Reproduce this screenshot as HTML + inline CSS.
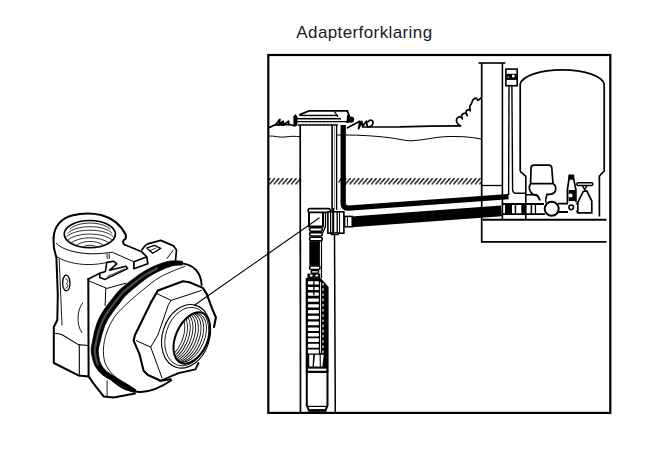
<!DOCTYPE html>
<html><head><meta charset="utf-8">
<style>
html,body{margin:0;padding:0;background:#fff;}
body{width:645px;height:455px;overflow:hidden;position:relative;}
svg{position:absolute;left:0;top:0;}
</style></head><body>
<svg width="645" height="455" viewBox="0 0 645 455">
<text x="296.3" y="37.7" font-family="'Liberation Sans', sans-serif" font-size="17" textLength="135.8" fill="#1a1a22">Adapterforklaring</text>

<!-- frame -->
<rect x="268.3" y="55" width="342" height="357.9" fill="none" stroke="#000" stroke-width="2.2"/>

<g fill="none" stroke="#000" stroke-linecap="round" stroke-linejoin="round">
<!-- ground left -->
<path d="M269.5 127.4 C 272 126, 274 125, 276 124.6 L 283 124.9 L 288.8 124.4 C 291 124.8, 293 125.5, 295 125.9" stroke-width="1.7"/>
<path d="M275.5 124.8 L 279.9 119.4 L 279.2 124.8 L 283.2 121.3 L 283.3 124.9 L 288.5 121.2 L 288.6 124.4" stroke-width="1.8"/>
<!-- soil line left -->
<path d="M269 136 C 274 135.5, 279 137.8, 285 137 S 295 136, 300 136.8" stroke-width="1"/>
<!-- ground right -->
<path d="M347.5 127.8 L359.8 121.3 L358.6 128.6 L361.8 121.5 L362.6 126.4 L366.4 121.2 L367.4 126.8 C 371 127.2, 373.5 125, 373 122 C 372.5 119.3, 369.4 119.6, 368.2 121.6" stroke-width="1.8"/>
<path d="M362.5 127 L 400 126.9 Q 430 125.8 460.5 125.8" stroke-width="1.7"/>
<!-- soil line right -->
<path d="M337 135 L346 135 C 360 135, 375 136, 388 137.5 C 400 139, 405 141, 412 140.8 C 425 140, 435 137, 446 136.6 C 458 136.3, 470 136.5, 481 139" stroke-width="1"/>
<!-- bush -->
<path d="M460.5 125.8 C460.1 125.5,458.5 124.9,457.8 124.0 C457.1 123.1,456.4 121.3,456.4 120.2 C456.4 119.1,457.3 117.9,458.0 117.4 C458.7 116.9,460.1 116.8,460.8 117.0 C461.5 117.2,462.3 119.0,462.4 118.8 C462.5 118.6,461.4 116.5,461.6 115.6 C461.9 114.7,463.1 113.7,463.9 113.4 C464.7 113.1,465.6 113.4,466.2 113.8 C466.8 114.2,467.3 115.9,467.3 115.6 C467.3 115.3,466.0 113.1,466.0 112.2 C466.0 111.3,466.8 110.4,467.4 110.0 C468.0 109.6,469.0 109.5,469.5 109.6 C470.0 109.7,470.2 111.3,470.3 110.8 C470.4 110.3,469.6 107.7,469.8 106.5 C470.0 105.3,471.0 104.6,471.4 103.7 C471.8 102.8,472.0 101.9,472.4 101.1 C472.8 100.3,473.3 99.3,474.0 98.8 C474.7 98.3,475.8 97.9,476.4 98.2 C477.0 98.5,477.4 100.2,477.8 100.4 C478.2 100.6,478.5 100.0,479.0 99.6 C479.5 99.2,480.7 98.1,481.0 97.8" stroke-width="1.7"/>
</g>

<!-- hatch -->
<defs>
<pattern id="hatch" width="4.33" height="6.4" patternUnits="userSpaceOnUse" x="0.84" y="178.1">
<path d="M0 6.4 L5.6 0 M-4.33 6.4 L1.27 0" stroke="#000" stroke-width="1.35"/>
</pattern>
<pattern id="hatch2" width="4.33" height="6.4" patternUnits="userSpaceOnUse" x="2.91" y="178.1">
<path d="M0 6.4 L5.6 0 M-4.33 6.4 L1.27 0" stroke="#000" stroke-width="1.35"/>
</pattern>
<clipPath id="boreclip"><ellipse cx="191.8" cy="338" rx="16" ry="27.2" transform="rotate(24 191.8 338)"/></clipPath>
</defs>
<rect x="269" y="178.1" width="31" height="6.4" fill="url(#hatch)"/>
<rect x="338.5" y="178.1" width="142.5" height="6.4" fill="url(#hatch2)"/>

<!-- cap -->
<g stroke="#000" fill="none">
<path d="M299.3 114.8 L308.9 110.8 L347.4 110.8 L349.3 116.4" stroke-width="1.8" fill="#fff"/>
<path d="M334.4 111.5 L338 117" stroke-width="1.3"/>
<line x1="299.5" y1="115.4" x2="338" y2="115.4" stroke-width="1.3"/>
<line x1="294" y1="118.7" x2="341" y2="118.7" stroke-width="1.4"/>
<line x1="294" y1="121.7" x2="348.5" y2="121.7" stroke-width="1.3"/>
<line x1="298" y1="125" x2="338" y2="125" stroke-width="1.6"/>
<line x1="302" y1="117" x2="336" y2="117" stroke-width="0.6" stroke="#999"/>
<line x1="302" y1="123.3" x2="336" y2="123.3" stroke-width="0.6" stroke="#aaa" stroke-dasharray="2 1.5"/>
</g>
<path d="M293.4 125.8 L293.4 116.5 L295.4 114 L297.4 116.5 L297.4 125.8 Z" fill="#000"/>
<circle cx="351" cy="119.6" r="3.2" fill="#000"/>
<path d="M347 115 L350 115.5 L349 123 L346.5 123 Z" fill="#000"/>

<!-- casing -->
<g stroke="#000" fill="none">
<line x1="300.2" y1="125" x2="300.5" y2="413" stroke-width="1.7"/>
<line x1="332.1" y1="125" x2="332.1" y2="212" stroke-width="1.6"/>
<line x1="334.5" y1="125" x2="334.5" y2="209" stroke-width="0.8" stroke="#777"/>
<line x1="336.6" y1="125" x2="336.6" y2="210" stroke-width="1.3"/>
<line x1="334.5" y1="233" x2="335.3" y2="413" stroke-width="1.5"/>
</g>

<!-- thick upper pipe (conduit) -->
<path d="M343.2 125 L343.2 203.5 Q 343.2 208.2, 348.5 208.2 L 508.5 196.7" fill="none" stroke="#000" stroke-width="5.3"/>
<!-- lower pipe -->
<path d="M351.5 221.8 L 501.5 210.8" fill="none" stroke="#000" stroke-width="10.8"/>

<!-- pitless adapter in well -->
<g stroke="#000" fill="#fff">
<path d="M309 212.5 L309 226.5 L323 226.5 L323 212.5" stroke-width="2"/>
<rect x="308.2" y="208.6" width="22" height="3.8" rx="1.5" stroke-width="1.6"/>
<rect x="327.9" y="211.8" width="16" height="21.4" stroke-width="1.6"/>
<rect x="331.2" y="233" width="7" height="1.6" stroke-width="1.2"/>
<rect x="344.6" y="216.4" width="7.6" height="10.4" stroke-width="1.5"/>
</g>
<g stroke="#000" fill="none">
<line x1="330.6" y1="212" x2="330.6" y2="233" stroke-width="1.2"/>
<line x1="333.2" y1="208" x2="333.2" y2="234" stroke-width="2"/>
<line x1="337.2" y1="211" x2="337.2" y2="233" stroke-width="1.3"/>
<line x1="339.6" y1="212" x2="339.6" y2="233" stroke-width="1"/>
<line x1="347.4" y1="217" x2="347.4" y2="226.3" stroke-width="1"/>
<path d="M322.6 233 L325.5 226.5 L325.5 212.5" stroke-width="1.3"/>
</g>
<!-- drop pipe bands -->
<g stroke="#000" stroke-width="1.6" fill="#fff">
<rect x="309.6" y="227.8" width="12.6" height="3.4" rx="1.4"/>
<rect x="309.6" y="232.6" width="12.6" height="3.4" rx="1.4"/>
<rect x="309.6" y="237.2" width="12.6" height="3.5" rx="1.4"/>
</g>
<rect x="309.3" y="241.2" width="10.6" height="24.5" fill="#000"/>
<line x1="321.5" y1="240" x2="321.5" y2="278" stroke="#000" stroke-width="1.2"/>
<g stroke="#000" stroke-width="1.5" fill="#fff">
<rect x="309.6" y="266" width="10.4" height="3.5" rx="1.5"/>
<rect x="311.2" y="270.6" width="7.4" height="2.6" rx="1.2"/>
</g>
<rect x="307.4" y="273.6" width="12.8" height="4.3" fill="#000"/>
<ellipse cx="311.2" cy="275.6" rx="1.6" ry="1.1" fill="#fff"/>
<ellipse cx="316.8" cy="275.6" rx="1.6" ry="1.1" fill="#fff"/>
<!-- pump body -->
<path d="M305.7 278 L320.7 278 L328.6 287 L328.6 372 L305.7 372 Z" fill="#000"/>
<g fill="#fff">
<rect x="307.9" y="281.3" width="11" height="3.1" rx="0.8"/>
<rect x="307.9" y="286.9" width="11" height="3.2" rx="0.8"/>
<rect x="307.9" y="292.6" width="11" height="3.2" rx="0.8"/>
<rect x="307.9" y="298.4" width="11" height="3.4" rx="0.8"/>
<rect x="307.9" y="304.2" width="11" height="3.4" rx="0.8"/>
<rect x="307.9" y="310" width="11" height="3.5" rx="0.8"/>
<rect x="307.9" y="315.8" width="11" height="3.5" rx="0.8"/>
<rect x="307.9" y="321.6" width="11" height="3.6" rx="0.8"/>
<rect x="307.9" y="327.4" width="11" height="3.6" rx="0.8"/>
<rect x="307.9" y="333.0" width="11" height="3.6" rx="0.8"/>
<rect x="307.9" y="338.2" width="11" height="3.8" rx="0.8"/>
<rect x="307.9" y="343.8" width="11" height="3.9" rx="0.8"/>
<rect x="307.9" y="349.5" width="11" height="4" rx="0.8"/>
<rect x="320" y="282" width="0.9" height="71" />
<path d="M309.2 354.8 L313.2 354.8 L312.6 366.6 L309.2 366.6 Z M315 354.8 L319.6 354.8 L319.8 366.6 L313.8 366.6 Z M320.7 354.8 L323.7 354.8 L322.4 366.6 L320.9 366.6 Z"/>
</g>
<rect x="313.2" y="281.3" width="1.3" height="14" fill="#000"/>
<line x1="323" y1="283" x2="323" y2="353" stroke="#fff" stroke-width="1.2" stroke-dasharray="2.6 2.6"/>
<rect x="307.4" y="368" width="19.6" height="3.4" fill="#fff" stroke="#000" stroke-width="1.3"/>
<!-- motor -->
<path d="M306.8 372 L327.5 372 L327.5 405.5 L325.4 410.6 L309 410.6 L306.8 405.5 Z" fill="#fff" stroke="#000" stroke-width="2"/>
<path d="M307 406.4 L327.3 406.4" stroke="#000" stroke-width="1.2"/>
<rect x="308.4" y="409.2" width="18" height="2.5" fill="#000"/>

<!-- house wall -->
<g stroke="#000" fill="none">
<line x1="478.5" y1="63" x2="505.4" y2="63" stroke-width="1.6"/>
<line x1="481.7" y1="63" x2="481.7" y2="242.5" stroke-width="1.7"/>
<line x1="502.4" y1="63" x2="502.4" y2="219" stroke-width="1.6"/>
<line x1="482" y1="185.5" x2="502" y2="185.5" stroke-width="1.3"/>
</g>
<!-- pressure switch -->
<rect x="505.9" y="69.1" width="11.3" height="16.6" fill="#fff" stroke="#000" stroke-width="1.6"/>
<rect x="506.4" y="73.8" width="10.4" height="5.2" fill="#000"/>
<circle cx="513.4" cy="75.9" r="1.5" fill="#fff"/>
<circle cx="508.2" cy="77.3" r="0.7" fill="#fff"/>
<line x1="505.9" y1="79.3" x2="517.2" y2="79.3" stroke="#000" stroke-width="1.2"/>
<g stroke="#000" fill="none" stroke-width="1.4">
<path d="M509 86 L508.6 195"/>
<path d="M511.9 86 L512.6 189.5 Q 512.8 193.3, 516 193.3 L525.8 193.3"/>
</g>
<!-- tank -->
<path d="M520.2 171.3 L520.2 84 C 522.5 76, 540 69.8, 562.2 69.8 C 584.4 69.8, 601.9 76, 604.2 84 L 604.2 171 L 599.4 176 L 599.4 216.6" fill="none" stroke="#000" stroke-width="1.7"/>
<path d="M520.2 171.3 L525.8 176.4 L525.8 219" fill="none" stroke="#000" stroke-width="1.6"/>

<!-- equipment -->
<path d="M530.6 183.7 L531 168 Q 531.2 165.2, 534 165.2 L 549 165.2 Q 551.4 165.2, 551.8 168 L 553 183.7" fill="#fff" stroke="#000" stroke-width="1.7"/>
<path d="M530.6 183.7 L553 183.7 Q 556.2 185, 555.6 190 Q 555 194, 549.7 194.3 L 547 194.3 L 545.8 199 M530.6 183.7 Q 528.6 186, 529.8 190.3 Q 531.5 195, 537.2 195.6 L 540 200" fill="#fff" stroke="#000" stroke-width="1.7"/>
<!-- horizontal pipe in house -->
<path d="M502 204 L 544 204 M502 214.1 L 545 214.1 M558 203.6 L568 203.6 M558 212 L568 212" stroke="#000" stroke-width="1.8"/>
<g fill="#000">
<rect x="505" y="203.2" width="7" height="11.8" rx="1"/>
<rect x="514.7" y="203.2" width="1.5" height="11.8"/>
<rect x="521.3" y="203.2" width="3.8" height="11.8" rx="0.8"/>
<rect x="530.6" y="203.2" width="1.5" height="11.8"/>
<rect x="534.8" y="203.2" width="1.3" height="11.8"/>
</g>
<path d="M537.5 195 L540 200.5 M545.8 199 L545.8 203 M525.8 194.8 L537 194.8" stroke="#000" stroke-width="1.4"/>
<circle cx="551.7" cy="208.8" r="7" fill="#fff" stroke="#000" stroke-width="2"/>
<!-- gauge bottle -->
<path d="M567.4 203 L567.4 189.8 L569 178.8 L573.7 178.8 L575.9 189.8 L575.9 202" fill="#fff" stroke="#000" stroke-width="1.7"/>
<rect x="568.2" y="174.4" width="6.1" height="4.6" rx="1" fill="#000"/>
<rect x="568.6" y="190" width="6.6" height="11" fill="#000"/>
<circle cx="570.6" cy="195.6" r="2" fill="#fff"/>
<circle cx="571.2" cy="207.3" r="2.3" fill="#fff" stroke="#000" stroke-width="1.6"/>
<!-- valve -->
<rect x="576.8" y="182.8" width="16" height="2.6" rx="1.2" fill="#fff" stroke="#000" stroke-width="1.5"/>
<path d="M582.3 185.4 L584.7 189.8 L587 185.4" fill="none" stroke="#000" stroke-width="1.4"/>
<path d="M583.2 191.5 L577.8 202.5 L577.8 212.8 L591.8 212.8 L591.8 201 L586.8 191 Z" fill="#fff" stroke="#000" stroke-width="1.7"/>
<path d="M575.9 203.5 L577.8 203.5 M575.9 211.5 L577.8 211.5" stroke="#000" stroke-width="1.3"/>
<!-- floor slab -->
<g stroke="#000" fill="none">
<line x1="482.5" y1="219.8" x2="606.5" y2="219.8" stroke-width="1.9"/>
<line x1="481" y1="241.9" x2="606.5" y2="241.9" stroke-width="1.7"/>
</g>


<!-- ADAPTER (left) -->
<g fill="none" stroke="#000" stroke-linecap="round" stroke-linejoin="round">
<!-- tee body -->
<path d="M56.4 257.3 L57.8 295 L57.3 320 L53.8 327 L53.8 363 L78.4 375.4 L88.6 376.4" stroke-width="2"/>
<path d="M53.6 237.8 C 53 250, 55 252, 56.4 257.3" stroke-width="2"/>
<path d="M53.6 237.8 C 54 226, 62 218, 72 215.5 C 80 213.5, 92 213, 101 215 C 112 218, 121 225, 125.8 235 C 126.5 238, 125 239.5, 123.7 240.2 C 122.5 241.5, 123 243.5, 124.8 244.8" stroke-width="2"/>
<path d="M59.2 259 L62 325" stroke-width="0.9"/>
<path d="M56.4 243.4 C 62 249.5, 75 253, 90 253.8 C 100 254, 108 252.6, 112.5 252.3 L133.9 261.8" stroke-width="1"/>
<path d="M57.8 257.3 C 66 262, 76 264.3, 88 264.6 C 96 264.6, 102 263.6, 108.5 262.2" stroke-width="0.9"/>
<ellipse cx="89.8" cy="234.1" rx="25.6" ry="13.6" stroke-width="1.7"/>
<g stroke-width="0.9" stroke="#1a1a1a">
<path d="M70 229 C 78 221, 102 221, 110 229"/>
<path d="M68 233 C 76 224.5, 104 224.5, 112 233"/>
<path d="M67 236.5 C 75 228, 105 228, 113 236.5"/>
<path d="M68 240 C 76 232, 104 232, 112 240"/>
<path d="M71 243 C 79 236, 101 236, 109 243"/>
<path d="M76 245.5 C 83 240, 97 240, 104 245.5"/>
<path d="M83 247 C 87 244.5, 93 244.5, 97 247"/>
</g>
<path d="M64.5 276 C 62 279, 62 287, 64.5 290 C 67 292, 70 290, 70 283 C 70 277, 67 273.5, 64.5 276 Z" stroke-width="1.3"/>
<path d="M66 279 C 68 279, 68.5 282, 66.5 283.5 C 68.5 285, 68 288, 66 288" stroke-width="0.9"/>
<path d="M82.8 302.9 C 77 309, 76 325, 82 332.7" stroke-width="0.9"/>
<path d="M55.5 333.2 C 59 333.5, 61 334, 62.6 335 L78.4 344.6 L88 345.5 M79.3 345 L79.3 375.4" stroke-width="1.1"/>
<!-- lug -->
<path d="M124.8 244.8 L141.8 251.8 L146.8 256.8 L147.8 263.7 L133.9 268.7 L133.9 261.8 M133.9 261.8 L145.8 257.3" stroke-width="1.7"/>
<!-- bracket left part -->
<path d="M88.3 279.1 L99.8 273.2" stroke-width="1.7"/>
<path d="M88.3 279.1 L88.6 376.4" stroke-width="2"/>
<path d="M89.3 281.1 L107 288.4 L126.2 283.1 M105.8 288.4 L105.1 305.5" stroke-width="1"/>
<path d="M99.8 273.2 L105.4 271.4 L106.8 262.4 L113.6 261.2 L116.8 263.8 L109.6 270.2 L126 266.2 L127.6 268.6 L105 279.4 L99.8 277.6 Z" stroke-width="1.6"/>
<path d="M107.5 276.5 L124.5 269" stroke-width="0.8" stroke-dasharray="1.2 0.8"/>
<path d="M107 254 L107.3 258.5 M109.2 254 L109.4 258.5" stroke-width="0.9"/>
<!-- bracket right block -->
<path d="M141.8 249.9 L144.8 245.9 L147.8 243.9 L160.7 240.4 L173.6 245.9 L176.5 249.9 L175.5 261" stroke-width="1.7"/>
<path d="M173 250.4 L167.1 258.3" stroke-width="1"/>
<path d="M146.8 247.9 L154.7 245.4 L160.7 248.4 L152.7 253.3 Z" stroke-width="1.3"/>
<path d="M150 250.6 L156 248" stroke-width="0.8"/>
<!-- bracket bottom -->
<path d="M88.6 376.4 L93.6 383.6 L103.6 396.4 L113.6 397.6 L135 393.6" stroke-width="2"/>
<path d="M107.1 380.7 L107.1 396.4" stroke-width="0.9"/>
<!-- gasket -->
<path d="M182.0 261.4 L181.7 261.4 L181.3 261.3 L180.8 261.2 L180.3 261.2 L179.7 261.1 L179.0 261.1 L178.3 261.0 L177.6 260.9 L176.9 260.9 L176.2 260.9 L175.5 260.9 L174.8 260.9 L174.2 260.9 L173.7 260.9 L173.1 260.9 L172.5 260.9 L172.0 260.9 L171.4 261.0 L170.8 261.0 L170.1 261.1 L169.5 261.2 L168.8 261.4 L168.0 261.5 L167.2 261.7 L166.4 261.9 L165.5 262.2 L164.6 262.4 L163.7 262.7 L162.7 263.0 L161.7 263.3 L160.7 263.7 L159.7 264.0 L158.7 264.4 L157.7 264.8 L156.7 265.2 L155.7 265.6 L154.7 266.0 L153.7 266.4 L152.7 266.9 L151.8 267.3 L150.8 267.8 L149.8 268.3 L148.8 268.8 L147.8 269.3 L146.8 269.9 L145.7 270.5 L144.7 271.0 L143.7 271.7 L142.7 272.3 L141.7 272.9 L140.7 273.6 L139.6 274.3 L138.6 275.0 L137.6 275.8 L136.6 276.5 L135.6 277.2 L134.6 278.0 L133.6 278.7 L132.6 279.5 L131.6 280.2 L130.6 281.0 L129.6 281.8 L128.5 282.6 L127.5 283.4 L126.4 284.3 L125.3 285.1 L124.3 286.0 L123.2 286.8 L122.2 287.7 L121.3 288.5 L120.4 289.3 L119.5 290.1 L118.7 290.9 L118.0 291.6 L117.4 292.3 L116.8 293.0 L116.3 293.7 L115.8 294.3 L115.3 294.9 L114.9 295.5 L114.4 296.1 L114.0 296.7 L113.5 297.4 L113.0 298.0 L112.4 298.7 L111.8 299.5 L111.2 300.3 L110.5 301.1 L109.9 302.0 L109.2 302.8 L108.5 303.7 L107.8 304.6 L107.2 305.5 L106.5 306.3 L105.9 307.2 L105.2 308.1 L104.7 309.0 L104.1 309.8 L103.5 310.7 L103.0 311.5 L102.5 312.4 L101.9 313.3 L101.4 314.2 L100.9 315.0 L100.4 315.9 L99.9 316.8 L99.5 317.7 L99.0 318.6 L98.6 319.5 L98.2 320.4 L97.8 321.3 L97.5 322.2 L97.2 323.1 L96.8 324.0 L96.5 324.9 L96.3 325.7 L96.0 326.6 L95.7 327.4 L95.5 328.3 L95.2 329.1 L95.0 330.0 L94.7 330.9 L94.5 331.8 L94.3 332.7 L94.1 333.6 L93.9 334.4 L93.8 335.3 L93.6 336.1 L93.4 337.0 L93.3 337.8 L93.1 338.6 L92.9 339.4 L92.8 340.2 L92.6 340.9 L92.5 341.7 L92.3 342.5 L92.1 343.3 L92.0 344.2 L91.8 345.0 L91.7 345.8 L91.5 346.7 L91.4 347.5 L91.4 348.3 L91.3 349.2 L91.3 350.0 L91.3 350.8 L91.4 351.6 L91.4 352.3 L91.5 353.0 L91.6 353.7 L91.7 354.4 L91.8 355.1 L92.0 355.7 L92.1 356.4 L92.3 357.0 L92.4 357.6 L92.6 358.2 L92.7 358.9 L92.8 359.5 L93.0 360.1 L93.2 360.8 L93.4 361.5 L93.6 362.2 L93.8 362.9 L94.1 363.6 L94.4 364.3 L94.8 365.1 L95.1 365.8 L95.5 366.5 L95.9 367.1 L96.4 367.8 L96.8 368.5 L97.3 369.2 L97.8 369.9 L98.4 370.7 L99.0 371.4 L99.7 372.1 L100.4 372.9 L101.1 373.6 L102.0 374.3 L102.9 375.0 L103.8 375.7 L104.8 376.4 L105.9 377.1 L107.0 377.7 L108.1 378.4 L109.2 379.0 L110.3 379.6 L111.4 380.3 L112.5 380.9 L113.6 381.5 L114.6 382.1 L115.7 382.7 L116.8 383.3 L117.9 383.9 L119.0 384.5 L120.1 385.1 L121.2 385.6 L122.3 386.2 L123.3 386.7 L124.3 387.3 L125.3 387.8 L126.2 388.2 L127.0 388.7 L127.8 389.1 L128.6 389.5 L129.3 389.9 L130.0 390.3 L130.7 390.7 L131.3 391.1 L131.9 391.4 L132.5 391.7 L133.0 392.0 L133.4 392.2 L133.8 392.4 L134.1 392.6 L135.9 389.8 L135.5 389.6 L135.2 389.3 L134.8 389.0 L134.3 388.7 L133.8 388.4 L133.2 388.0 L132.6 387.6 L131.9 387.2 L131.2 386.7 L130.5 386.3 L129.8 385.8 L129.0 385.3 L128.1 384.8 L127.2 384.3 L126.3 383.7 L125.3 383.1 L124.3 382.5 L123.2 381.9 L122.2 381.3 L121.1 380.7 L120.1 380.0 L119.0 379.4 L118.0 378.8 L117.0 378.1 L116.0 377.5 L114.9 376.8 L113.8 376.2 L112.8 375.5 L111.7 374.8 L110.7 374.2 L109.6 373.5 L108.7 372.8 L107.7 372.2 L106.9 371.5 L106.1 370.9 L105.4 370.3 L104.8 369.7 L104.3 369.1 L103.8 368.5 L103.3 367.9 L102.8 367.3 L102.4 366.7 L102.1 366.1 L101.7 365.5 L101.4 364.9 L101.1 364.3 L100.8 363.6 L100.5 363.0 L100.2 362.5 L100.0 362.0 L99.8 361.4 L99.7 360.9 L99.5 360.4 L99.4 359.9 L99.3 359.3 L99.2 358.8 L99.1 358.2 L99.0 357.6 L98.9 357.0 L98.8 356.4 L98.7 355.7 L98.6 355.1 L98.5 354.6 L98.4 354.0 L98.4 353.4 L98.3 352.9 L98.3 352.3 L98.2 351.8 L98.2 351.3 L98.2 350.7 L98.2 350.2 L98.3 349.6 L98.4 349.0 L98.5 348.4 L98.6 347.8 L98.7 347.1 L98.9 346.4 L99.0 345.7 L99.2 345.0 L99.4 344.2 L99.6 343.4 L99.8 342.6 L100.1 341.8 L100.3 341.0 L100.5 340.2 L100.6 339.4 L100.8 338.6 L101.0 337.8 L101.2 337.0 L101.4 336.2 L101.6 335.4 L101.8 334.6 L102.1 333.8 L102.3 333.0 L102.5 332.2 L102.8 331.5 L103.0 330.7 L103.3 329.9 L103.6 329.1 L103.8 328.3 L104.1 327.5 L104.4 326.7 L104.7 326.0 L105.0 325.2 L105.3 324.4 L105.7 323.7 L106.0 322.9 L106.4 322.2 L106.8 321.5 L107.2 320.7 L107.6 319.9 L108.0 319.2 L108.5 318.4 L109.0 317.6 L109.5 316.8 L110.0 316.1 L110.5 315.3 L111.1 314.5 L111.6 313.7 L112.2 312.9 L112.7 312.1 L113.3 311.3 L113.9 310.5 L114.5 309.7 L115.1 308.8 L115.8 308.0 L116.5 307.2 L117.1 306.3 L117.8 305.5 L118.4 304.7 L119.0 303.9 L119.6 303.2 L120.2 302.4 L120.7 301.7 L121.2 301.0 L121.6 300.4 L122.0 299.8 L122.4 299.3 L122.8 298.7 L123.2 298.2 L123.7 297.7 L124.1 297.1 L124.7 296.6 L125.3 295.9 L126.0 295.2 L126.7 294.5 L127.6 293.7 L128.5 292.9 L129.4 292.0 L130.4 291.2 L131.4 290.3 L132.4 289.5 L133.4 288.6 L134.4 287.8 L135.4 287.0 L136.4 286.2 L137.3 285.4 L138.3 284.6 L139.2 283.8 L140.1 283.1 L141.1 282.3 L142.0 281.6 L142.9 280.9 L143.9 280.2 L144.8 279.5 L145.7 278.8 L146.6 278.2 L147.5 277.5 L148.4 277.0 L149.3 276.4 L150.2 275.8 L151.1 275.3 L152.0 274.8 L152.9 274.2 L153.8 273.7 L154.7 273.3 L155.6 272.8 L156.5 272.3 L157.4 271.9 L158.3 271.4 L159.2 271.0 L160.1 270.5 L161.1 270.1 L162.0 269.7 L162.9 269.2 L163.8 268.9 L164.7 268.5 L165.6 268.1 L166.5 267.8 L167.3 267.4 L168.1 267.2 L168.8 266.9 L169.4 266.7 L170.0 266.5 L170.6 266.3 L171.1 266.1 L171.6 266.0 L172.1 265.9 L172.6 265.8 L173.1 265.7 L173.6 265.6 L174.1 265.5 L174.6 265.4 L175.2 265.3 L175.7 265.3 L176.3 265.2 L176.9 265.2 L177.6 265.1 L178.2 265.1 L178.9 265.1 L179.5 265.1 L180.1 265.1 L180.7 265.1 L181.2 265.0 L181.6 265.0 L182.0 265.0 Z" fill="#000"/>
<path d="M157.0 268.5 C155.1 269.5,149.4 272.2,145.6 274.6 C141.8 277.1,137.9 280.1,134.0 283.2 C130.1 286.3,125.4 290.1,122.4 293.0 C119.5 295.9,118.6 297.7,116.3 300.6 C114.0 303.5,111.0 307.2,108.7 310.5 C106.4 313.8,104.3 317.1,102.7 320.4 C101.1 323.7,100.0 327.0,99.0 330.3 C98.0 333.6,97.3 337.0,96.6 340.2 C95.9 343.4,95.0 346.6,94.8 349.4 C94.6 352.2,95.1 354.5,95.6 357.0 C96.1 359.5,97.4 363.2,97.8 364.4" fill="none" stroke="#4a4a4a" stroke-width="2.2" stroke-linecap="round"/>

<!-- flange -->
<path d="M176 263.2 C 184 262.8, 191 264.5, 196 270 C 199.5 274, 201.5 279, 201.6 285" stroke-width="1.9"/>
<path d="M113 381 C 121 388, 131 392.5, 141 392 C 152 391.5, 163 386, 171 380.5" stroke-width="1.9"/>
<path d="M185.0 266.3 C182.5 267.3,174.8 270.1,170.0 272.3 C165.2 274.5,161.8 275.7,156.2 279.5 C150.6 283.3,141.8 290.8,136.4 295.3 C131.0 299.8,127.7 302.8,124.0 306.5 C120.3 310.2,116.9 313.3,114.0 317.7 C111.1 322.1,108.2 327.9,106.5 333.0 C104.8 338.1,103.8 343.3,103.5 348.0 C103.2 352.7,103.6 357.3,104.5 361.0 C105.4 364.7,107.1 367.2,109.0 370.0 C110.9 372.8,114.8 376.2,116.0 377.5" stroke-width="0.9"/>
<!-- hex nut -->
<path d="M151.3 301.7 L157.9 290.5 L183 281.3 L189.5 282.3 L202.7 287.9 L206.7 293.8 L212 308.3 L215.9 317.5 L214 327" stroke-width="2.1"/>
<path d="M151.3 301.7 L135 335 L133.6 340.7 L139.3 353.6 L143.6 370.7 L147.9 375 L160.7 380.7 L170.7 379.3" stroke-width="2.1"/>
<path d="M160 381 L178.5 373.2 L195.4 369.3 L198.5 363" stroke-width="1.8"/>
<path d="M157.2 293.8 L171.1 300.4 L201.4 290.5 M171.1 300.4 L168.5 304.4 L157.9 335 L150.7 347.1 L136.4 340.7 M150.7 347.1 L162 377.9" stroke-width="1"/>
<!-- bore -->
<ellipse cx="186" cy="336.3" rx="23.5" ry="32.5" transform="rotate(18 186 336.3)" stroke-width="1.1"/>
<ellipse cx="186.8" cy="336.6" rx="21" ry="30" transform="rotate(18 186.8 336.6)" stroke-width="0.8"/>
<g clip-path="url(#boreclip)" stroke-width="0.9" stroke="#111">
<ellipse cx="189.1" cy="337.8" rx="15" ry="26" transform="rotate(24 189.1 337.8)"/>
<ellipse cx="186.4" cy="337.7" rx="15" ry="26" transform="rotate(24 186.4 337.7)"/>
<ellipse cx="183.7" cy="337.5" rx="15" ry="26" transform="rotate(24 183.7 337.5)"/>
<ellipse cx="181.0" cy="337.4" rx="15" ry="26" transform="rotate(24 181.0 337.4)"/>
<ellipse cx="178.3" cy="337.2" rx="15" ry="26" transform="rotate(24 178.3 337.2)"/>
<ellipse cx="175.6" cy="337.0" rx="15" ry="26" transform="rotate(24 175.6 337.0)"/>
<ellipse cx="172.9" cy="336.9" rx="15" ry="26" transform="rotate(24 172.9 336.9)"/>
<ellipse cx="170.2" cy="336.7" rx="15" ry="26" transform="rotate(24 170.2 336.7)"/>
<ellipse cx="167.5" cy="336.5" rx="15" ry="26" transform="rotate(24 167.5 336.5)"/>
</g>
<ellipse cx="191.8" cy="338" rx="16" ry="27.2" transform="rotate(24 191.8 338)" stroke-width="2"/>
</g>
<!-- leader line -->
<line x1="194" y1="305.5" x2="319.5" y2="217.8" stroke="#000" stroke-width="1.1"/>
</svg>
</body></html>
